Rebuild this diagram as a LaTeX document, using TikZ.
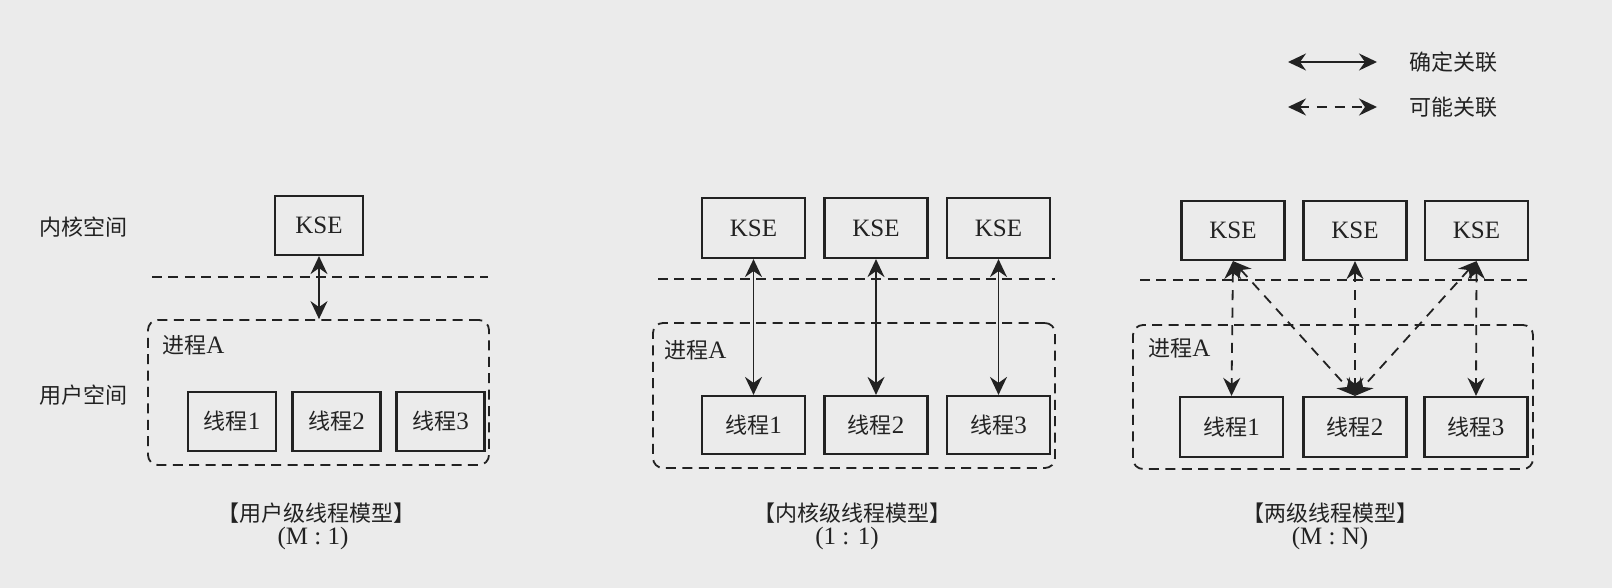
\documentclass[tikz,border=0pt]{standalone}
\usepackage{fontspec}
\setmainfont{Liberation Serif}
\newfontfamily\cjk[Scale=0.88]{Noto Sans CJK SC}
\usetikzlibrary{arrows.meta}
\definecolor{paper}{RGB}{235,235,235}
\definecolor{ink}{RGB}{34,34,34}
\tikzset{
  lbl/.style={font=\fontsize{12.5}{14}\selectfont, text=ink, inner sep=0pt},
  kbox/.style={lbl, draw=ink, line width=1.1pt, minimum height=29.5pt},
  procbox/.style={draw=ink, line width=0.9pt, rounded corners=5pt,
    dash pattern=on 5pt off 3.2pt, inner sep=0pt},
  bound/.style={draw=ink, line width=0.9pt, dash pattern=on 5pt off 3.2pt},
  surearr/.style={draw=ink, line width=0.9pt, {Stealth[length=9pt,width=8.5pt,inset=3pt]}-{Stealth[length=9pt,width=8.5pt,inset=3pt]}},
  mayarr/.style={surearr, dash pattern=on 5pt off 3.8pt},
}
\begin{document}
\begin{tikzpicture}[x=0.5pt,y=-0.5pt]
\fill[paper] (0,0) rectangle (1612,588);
\useasboundingbox (0,0) rectangle (1612,588);

% space labels
\node[lbl] (kspace) at (83.5,227) {\cjk 内核空间};
\node[lbl] (uspace) at (83.5,395) {\cjk 用户空间};

% legend
\coordinate (la1) at (1288,62);  \coordinate (lb1) at (1377,62);
\coordinate (la2) at (1288,107); \coordinate (lb2) at (1377,107);
\draw[surearr] (la1) -- (lb1);
\draw[mayarr] (la2) -- (lb2);
\node[lbl, anchor=west] (sure) at (1409,62) {\cjk 确定关联};
\node[lbl, anchor=west] (may) at (1409,107) {\cjk 可能关联};

% ---- user-level model (M:1)
\node[procbox, minimum width=170.5pt, minimum height=72.5pt] (ap) at (318.5,392.5) {};
\node[lbl, anchor=west] (apn) at (162,345) {{\cjk 进程}A};
\node[kbox, minimum width=44pt] (ak) at (319,225.5) {KSE};
\node[kbox, minimum width=44pt] (at1) at (232,421.5) {{\cjk 线程}1};
\node[kbox, minimum width=44pt] (at2) at (336.5,421.5) {{\cjk 线程}2};
\node[kbox, minimum width=44pt] (at3) at (440.5,421.5) {{\cjk 线程}3};
\coordinate (abl) at (152,277); \coordinate (abr) at (488,277);
\draw[bound] (abl) -- (abr);
\draw[surearr] (ak.south) -- (ak.south |- ap.north);
\node[lbl] (acap) at (316.5,513) {{\cjk 【用户级线程模型】}};
\node[lbl] (arat) at (313,538) {(M : 1)};

% ---- kernel-level model (1:1)
\node[procbox, minimum width=201pt, minimum height=72.5pt] (bp) at (854,395.5) {};
\node[lbl, anchor=west] (bpn) at (664,350) {{\cjk 进程}A};
\node[kbox, minimum width=51.5pt, minimum height=30pt] (bk1) at (753.5,228) {KSE};
\node[kbox, minimum width=51.5pt, minimum height=30pt] (bk2) at (876,228) {KSE};
\node[kbox, minimum width=51.5pt, minimum height=30pt] (bk3) at (998.5,228) {KSE};
\node[kbox, minimum width=51.5pt, minimum height=29pt] (bt1) at (753.5,425) {{\cjk 线程}1};
\node[kbox, minimum width=51.5pt, minimum height=29pt] (bt2) at (876,425) {{\cjk 线程}2};
\node[kbox, minimum width=51.5pt, minimum height=29pt] (bt3) at (998.5,425) {{\cjk 线程}3};
\coordinate (bbl) at (658,279); \coordinate (bbr) at (1055,279);
\draw[bound] (bbl) -- (bbr);
\draw[surearr] (bk1.south) -- (bt1.north);
\draw[surearr] (bk2.south) -- (bt2.north);
\draw[surearr] (bk3.south) -- (bt3.north);
\node[lbl] (bcap) at (852,513) {{\cjk 【内核级线程模型】}};
\node[lbl] (brat) at (847,538) {(1 : 1)};

% ---- two-level model (M:N)
\node[procbox, minimum width=200pt, minimum height=72pt] (cp) at (1333,397) {};
\node[lbl, anchor=west] (cpn) at (1148,348) {{\cjk 进程}A};
\node[kbox, minimum width=51.5pt] (ck1) at (1233,230.5) {KSE};
\node[kbox, minimum width=51.5pt] (ck2) at (1355,230.5) {KSE};
\node[kbox, minimum width=51.5pt] (ck3) at (1476.5,230.5) {KSE};
\node[kbox, minimum width=51.5pt, minimum height=30pt] (ct1) at (1231.5,427) {{\cjk 线程}1};
\node[kbox, minimum width=51.5pt, minimum height=30pt] (ct2) at (1355,427) {{\cjk 线程}2};
\node[kbox, minimum width=51.5pt, minimum height=30pt] (ct3) at (1476,427) {{\cjk 线程}3};
\coordinate (cbl) at (1140,280); \coordinate (cbr) at (1533,280);
\draw[bound] (cbl) -- (cbr);
\draw[mayarr] (ck1.south) -- (ct1.north);
\draw[mayarr] (ck1.south) -- (ct2.north);
\draw[mayarr] (ck2.south) -- (ct2.north);
\draw[mayarr] (ck3.south) -- (ct2.north);
\draw[mayarr] (ck3.south) -- (ct3.north);
\node[lbl] (ccap) at (1330,513) {{\cjk 【两级线程模型】}};
\node[lbl] (crat) at (1330,538) {(M : N)};
\end{tikzpicture}
\end{document}
